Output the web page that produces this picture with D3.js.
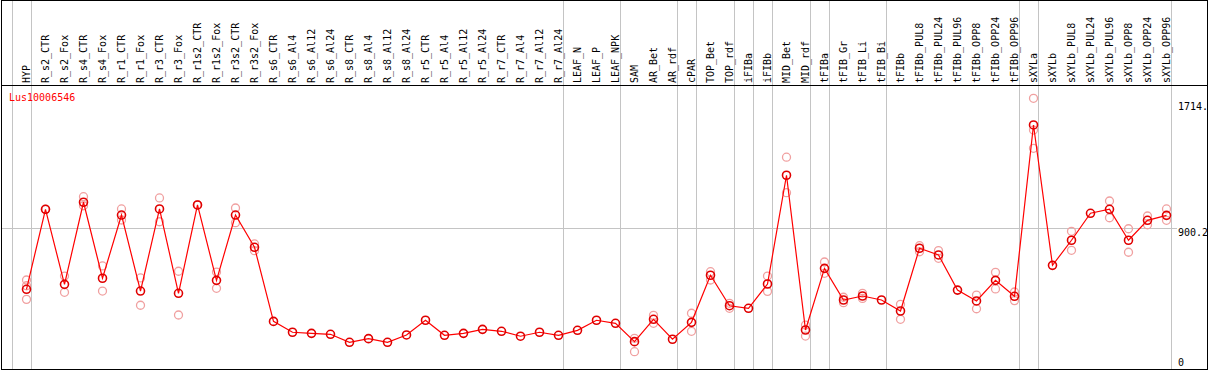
<!DOCTYPE html>
<html>
<head>
<meta charset="utf-8">
<script src="https://cdn.jsdelivr.net/npm/d3@7"></script>
<style>
  body { margin: 0; background: #fff; }
  svg { display: block; }
  text { font-family: "DejaVu Sans Mono", monospace; font-size: 10px; }
</style>
</head>
<body>
<svg id="drawing_region"></svg>
<script>
const geneName = "Lus10006546";

const categories = [
  "HYP", "R_s2_CTR", "R_s2_Fox", "R_s4_CTR", "R_s4_Fox", "R_r1_CTR", "R_r1_Fox",
  "R_r3_CTR", "R_r3_Fox", "R_r1s2_CTR", "R_r1s2_Fox", "R_r3s2_CTR", "R_r3s2_Fox",
  "R_s6_CTR", "R_s6_Al4", "R_s6_Al12", "R_s6_Al24", "R_s8_CTR", "R_s8_Al4", "R_s8_Al12",
  "R_s8_Al24", "R_r5_CTR", "R_r5_Al4", "R_r5_Al12", "R_r5_Al24", "R_r7_CTR", "R_r7_Al4",
  "R_r7_Al12", "R_r7_Al24", "LEAF_N", "LEAF_P", "LEAF_NPK", "SAM", "AR_Bet", "AR_rdf",
  "cPAR", "TOP_Bet", "TOP_rdf", "iFIBa", "iFIBb", "MID_Bet", "MID_rdf", "tFIBa",
  "tFIB_Gr", "tFIB_Li", "tFIB_Bi", "tFIBb", "tFIBb_PUL8", "tFIBb_PUL24", "tFIBb_PUL96",
  "tFIBb_OPP8", "tFIBb_OPP24", "tFIBb_OPP96", "sXYLa", "sXYLb", "sXYLb_PUL8",
  "sXYLb_PUL24", "sXYLb_PUL96", "sXYLb_OPP8", "sXYLb_OPP24", "sXYLb_OPP96"
];

// mean expression per sample
const means = [
  518, 1019, 549, 1063, 587, 983, 507, 1021, 493, 1046, 574, 983, 781,
  317, 249, 242, 236, 186, 209, 186, 232, 324, 230, 242, 267, 255, 224, 249, 230,
  261, 324, 305, 190, 330, 205, 311, 606, 415, 399, 551, 1232, 263, 649,
  451, 476, 451, 382, 775, 733, 513, 445, 574, 474, 1547, 668, 825, 994, 1019,
  825, 950, 981
];

// replicate values per sample
const replicates = [
  [576, 540, 455], [1019, 1019], [601, 499], [1098, 1041], [664, 507], [1021, 952],
  [589, 418], [1090, 941], [631, 357], [1046, 1046], [626, 524], [1027, 935], [802, 760],
  [], [], [], [], [], [], [], [], [], [], [], [], [], [], [], [],
  [], [], [], [211, 127], [355, 305], [], [368, 255], [628, 576], [430, 399], [],
  [601, 505], [1345, 1123], [294, 225], [689, 618], [468, 434], [493, 461], [],
  [424, 330], [791, 753], [760, 712], [], [482, 396], [624, 520], [501, 447],
  [1714, 1515, 1401], [], [881, 762], [], [1071, 966], [897, 750], [977, 922], [1021, 950]
];

// last sample of each group (a separator follows it)
const groupEnds = [
  "HYP", "R_r7_Al24", "LEAF_NPK", "AR_rdf", "cPAR", "TOP_rdf", "iFIBa", "iFIBb",
  "MID_rdf", "tFIBa", "tFIB_Bi", "tFIBb_OPP96", "sXYLa", "sXYLb_OPP96"
];

const yTickValues = [1714, 900.2, 0];
const yTickLabels = ["1714.", "900.2", "0"];

const width = 1209, height = 370;
const headerY = 85.5;

const svg = d3.select("#drawing_region")
  .attr("width", width)
  .attr("height", height);

const x = d3.scalePoint()
  .domain(categories)
  .range([26.5, 1166.5]);

const y = d3.scaleLinear()
  .domain([0, 1714])
  .range([372, 98.3]);

const step = x.step();

// group separators
const sepX = [x(categories[0]) - step + 4].concat(groupEnds.map(d => x(d) + 4));
svg.selectAll(".sep")
  .data(sepX)
  .enter()
  .append("line")
  .attr("x1", d => Math.round(d) + 0.5)
  .attr("x2", d => Math.round(d) + 0.5)
  .attr("y1", 0)
  .attr("y2", height)
  .attr("stroke", "#c4c4c4")
  .attr("stroke-width", 1);

// middle grid line
svg.append("line")
  .attr("x1", 1)
  .attr("x2", 1177)
  .attr("y1", Math.round(y(900.2)) + 0.5)
  .attr("y2", Math.round(y(900.2)) + 0.5)
  .attr("stroke", "#c4c4c4");

// frame + header line
svg.append("rect")
  .attr("x", 1.5).attr("y", 0.5)
  .attr("width", 1206).attr("height", 369)
  .attr("fill", "none")
  .attr("stroke", "#000");
svg.append("line")
  .attr("x1", 1).attr("x2", 1208)
  .attr("y1", headerY).attr("y2", headerY)
  .attr("stroke", "#000");

// column labels
svg.selectAll(".lab")
  .data(categories)
  .enter()
  .append("text")
  .attr("transform", d => `translate(${x(d) + 3.5},83) rotate(-90)`)
  .attr("text-anchor", "start")
  .attr("fill", "#000")
  .text(d => d);

svg.append("text")
  .attr("x", 9)
  .attr("y", 101)
  .attr("fill", "#ff0000")
  .text(geneName);

// y labels
svg.selectAll(".ylab")
  .data(yTickValues)
  .enter()
  .append("text")
  .attr("x", 1178)
  .attr("y", (d, i) => i === 0 ? y(d) + 12 : (i === 1 ? y(d) + 8 : y(d) - 6))
  .attr("fill", "#000")
  .text((d, i) => yTickLabels[i]);

// replicate points
const reps = [];
replicates.forEach((r, i) => r.forEach(v => reps.push({ c: categories[i], v: v })));
svg.selectAll(".rep")
  .data(reps)
  .enter()
  .append("circle")
  .attr("cx", d => x(d.c))
  .attr("cy", d => y(d.v))
  .attr("r", 4)
  .attr("fill", "none")
  .attr("stroke", "#f0a0a0")
  .attr("stroke-width", 1.3);

// mean line
const line = d3.line()
  .x((d, i) => x(categories[i]))
  .y(d => y(d));
svg.append("path")
  .datum(means)
  .attr("d", line)
  .attr("fill", "none")
  .attr("stroke", "#ff0000")
  .attr("stroke-width", 1.2);

svg.selectAll(".mean")
  .data(means)
  .enter()
  .append("circle")
  .attr("cx", (d, i) => x(categories[i]))
  .attr("cy", d => y(d))
  .attr("r", 4)
  .attr("fill", "none")
  .attr("stroke", "#e00000")
  .attr("stroke-width", 1.6);
</script>
</body>
</html>
